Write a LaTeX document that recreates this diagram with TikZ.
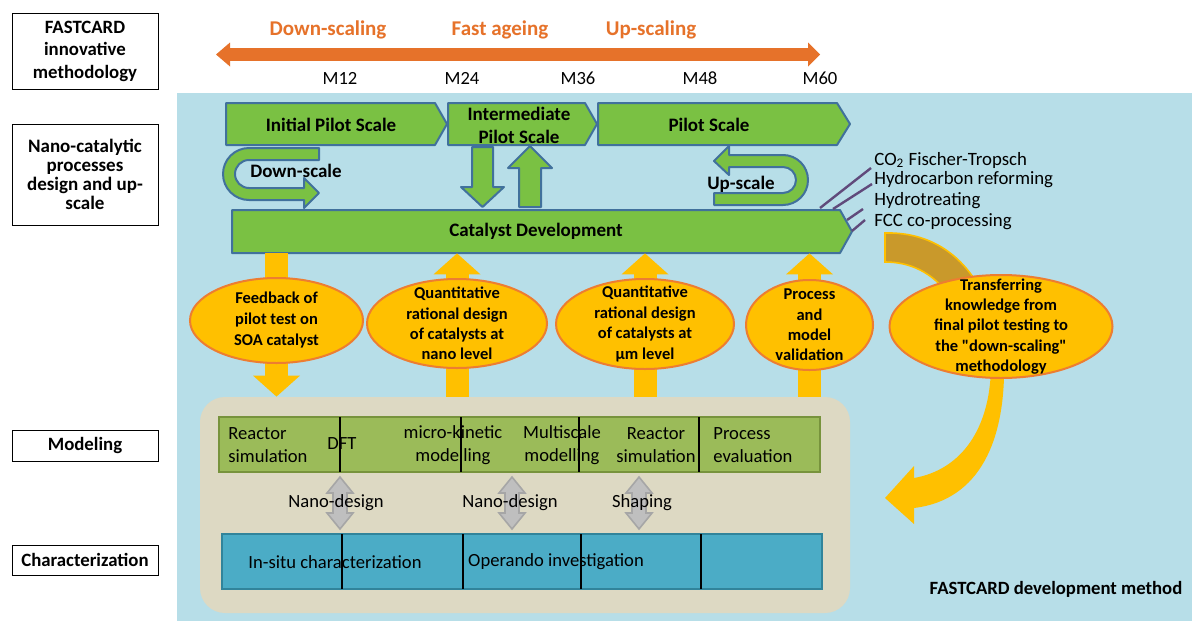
\documentclass[tikz,border=0pt]{standalone}
\usepackage{fontspec}
\setmainfont{Carlito}
\usetikzlibrary{arrows.meta}
\definecolor{skyback}{HTML}{B7DEE8}
\definecolor{leafgreen}{HTML}{7AC143}
\definecolor{edgeblue}{HTML}{41719C}
\definecolor{gold}{HTML}{FFC000}
\definecolor{darkgold}{HTML}{C9992B}
\definecolor{rimorange}{HTML}{ED7D31}
\definecolor{timeorange}{HTML}{E6722A}
\definecolor{sand}{HTML}{DDD9C3}
\definecolor{olive}{HTML}{9BBB59}
\definecolor{oliveedge}{HTML}{77933C}
\definecolor{teal}{HTML}{4BACC6}
\definecolor{tealedge}{HTML}{31849B}
\definecolor{plum}{HTML}{604A7B}

\begin{document}
\begin{tikzpicture}[x=0.5pt, y=-0.5pt,
        lbl/.style={draw=black, line width=0.5pt, fill=white, align=center, inner sep=0pt, minimum width=73pt, font=\bfseries\fontsize{9.4}{11.25}\selectfont},
        pilot/.style={fill=leafgreen, draw=edgeblue, line width=1pt, line join=round},
        pilottext/.style={font=\bfseries\fontsize{9.5}{11.5}\selectfont, align=center, inner sep=0pt},
        orangetext/.style={text=timeorange, font=\bfseries\fontsize{10.5}{12}\selectfont, inner sep=0pt},
        bubble/.style={fill=gold, draw=rimorange, line width=1pt},
        bubbletext/.style={font=\bfseries\fontsize{8.25}{10.2}\selectfont, align=center, inner sep=0pt},
        goldarrow/.style={gold, line width=11.5pt, -{Triangle[length=10.5pt, width=23.5pt, line width=0pt]}},
        twin/.style={fill=gray!50, draw=gray!70, line width=0.8pt},
        plain/.style={font=\fontsize{9.3}{11.5}\selectfont, align=center, inner sep=0pt},
        listtext/.style={anchor=west, inner sep=0pt, font=\fontsize{9.4}{11}\selectfont},
        divider/.style={black, line width=1pt}]

        \useasboundingbox (0,0) rectangle (1192,621);
        \fill[white] (0,0) rectangle (1192,621);
        \fill[skyback] (177,93) rectangle (1192,621);

        \coordinate (past) at (216,54.5);
        \coordinate (future) at (820,54.5);
        \draw[timeorange, line width=6.5pt, {Triangle[length=7pt, width=12pt, line width=0pt]}-{Triangle[length=6pt, width=12pt, line width=0pt]}] (past) -- (future);
        \node[orangetext] (downscaling) at (328,30) {Down-scaling};
        \node[orangetext] (ageing) at (500,30) {Fast ageing};
        \node[orangetext] (upscaling) at (651,30) {Up-scaling};
        \node[plain] (m12) at (340,78) {M12};
        \node[plain] (m24) at (462,78) {M24};
        \node[plain] (m36) at (578,78) {M36};
        \node[plain] (m48) at (700,78) {M48};
        \node[plain] (m60) at (820,78) {M60};

        \node[lbl, minimum height=38pt] (method) at (85,51) {FASTCARD\\innovative\\methodology};
        \node[lbl, minimum height=50.5pt, font=\bfseries\fontsize{9.5}{9.6}\selectfont] (process) at (85,174.5) {Nano-catalytic\\processes\\design and up-\\scale};
        \node[lbl, minimum height=15.5pt] (modeling) at (85,445.5) {Modeling};
        \node[lbl, minimum height=15pt] (charlabel) at (85,560) {Characterization};

        \filldraw[pilot] (226,103) -- (435,103) -- (447,124) -- (435,145) -- (226,145) -- cycle;
        \filldraw[pilot] (448,103) -- (585,103) -- (597,124) -- (585,145) -- (448,145) -- cycle;
        \filldraw[pilot] (598,103) -- (837,103) -- (850,124) -- (837,145) -- (598,145) -- cycle;
        \node[pilottext] (initial) at (331,125) {Initial Pilot Scale};
        \node[pilottext] (intermediate) at (519,125) {Intermediate\\Pilot Scale};
        \node[pilottext] (pilotscale) at (709,125) {Pilot Scale};

        \filldraw[pilot] (319,148) -- (249,148) arc[start angle=90, end angle=270, radius=13pt] -- (304,200) -- (304,208) -- (319,193) -- (304,178) -- (304,188) -- (249,188) arc[start angle=270, end angle=90, radius=7pt] -- (319,160) -- cycle;
        \node[pilottext] (downscale) at (296,171) {Down-scale};
        \filldraw[pilot] (729,155) -- (783,155) arc[start angle=90, end angle=-90, radius=12.5pt] -- (714,205) -- (714,193) -- (783,193) arc[start angle=-90, end angle=90, radius=6.5pt] -- (729,167) -- (729,175) -- (714,161) -- (729,146) -- cycle;
        \node[pilottext] (upscale) at (741,184) {Up-scale};

        \filldraw[pilot] (472,147) -- (493,147) -- (493,187) -- (504,187) -- (482.5,207) -- (461,187) -- (472,187) -- cycle;
        \filldraw[pilot] (519,207) -- (541,207) -- (541,168) -- (552,168) -- (530,146) -- (508,168) -- (519,168) -- cycle;

        \filldraw[pilot] (232,210) -- (840,210) -- (852,231.5) -- (840,253) -- (232,253) -- cycle;
        \node[pilottext, minimum width=304pt, minimum height=21.5pt] (catalyst) at (536,231.5) {Catalyst Development};

        \draw[plum, line width=1.2pt] (820,208) -- (871,168);
        \draw[plum, line width=1.2pt] (833,209) -- (872,184);
        \draw[plum, line width=1.2pt] (847,220) -- (863,209);
        \draw[plum, line width=1.2pt] (852,231) -- (865,220);
        \node[listtext] (fischer) at (874,160) {CO\textsubscript{2} Fischer-Tropsch};
        \node[listtext] (reforming) at (874,180) {Hydrocarbon reforming};
        \node[listtext] (hydro) at (874,201) {Hydrotreating};
        \node[listtext] (fcc) at (874,222) {FCC co-processing};

        \filldraw[fill=darkgold, draw=gold, line width=0.8pt] (885,262) -- (885,233) .. controls (925,232) and (960,250) .. (982,292) -- (950,296) .. controls (932,272) and (910,262) .. (885,262) -- cycle;
        \fill[gold] (914,478) .. controls (960,470) and (992,430) .. (991,360) -- (1004,360) .. controls (1006,440) and (980,500) .. (914,508) -- (914,524) -- (885,498) -- (914,466) -- cycle;

        \node[fill=sand, rounded corners=12.5pt, minimum width=325pt, minimum height=108pt] (lab) at (525,505) {};

        \coordinate (feedbackc) at (276.5,320.5);
        \coordinate (nanoc) at (457,323.5);
        \coordinate (microc) at (645,324);
        \coordinate (validc) at (809.5,325);
        \draw[goldarrow] (feedbackc |- catalyst.south) -- (feedbackc |- lab.north);
        \draw[goldarrow] (nanoc |- lab.north) -- (nanoc |- catalyst.south);
        \draw[goldarrow] (microc |- lab.north) -- (microc |- catalyst.south);
        \draw[goldarrow] (validc |- lab.north) -- (validc |- catalyst.south);

        \filldraw[bubble] (feedbackc) node[bubbletext, font=\bfseries\fontsize{8.25}{10.5}\selectfont] (feedback) {Feedback of\\pilot test on\\SOA catalyst} ellipse [x radius=43.25pt, y radius=21.25pt];
        \filldraw[bubble] (nanoc) node[bubbletext] (nanodesign) {Quantitative\\rational design\\of catalysts at\\nano level} ellipse [x radius=45pt, y radius=22.25pt];
        \filldraw[bubble] (microc) node[bubbletext] (microdesign) {Quantitative\\rational design\\of catalysts at\\µm level} ellipse [x radius=44.5pt, y radius=22.5pt];
        \filldraw[bubble] (validc) node[bubbletext] (validation) {Process\\and\\model\\validation} ellipse [x radius=31.75pt, y radius=22.5pt];
        \filldraw[bubble] (1001,326.5) node[bubbletext] (transfer) {Transferring\\knowledge from\\final pilot testing to\\the \textquotedbl down-scaling\textquotedbl\\methodology} ellipse [x radius=55.75pt, y radius=25.75pt];

        \node[fill=olive, draw=oliveedge, line width=1pt, minimum width=300.5pt, minimum height=27.5pt] (modelbar) at (519.5,444.5) {};
        \draw[divider] (340,417) -- (340,472);
        \draw[divider] (461,417) -- (461,472);
        \draw[divider] (579,417) -- (579,472);
        \draw[divider] (699,417) -- (699,472);
        \node[plain, anchor=west, align=left] (reactor) at (228,445) {Reactor\\simulation};
        \node[plain] (dft) at (342,444) {DFT};
        \node[plain] (kinetic) at (453,445) {micro-kinetic\\modelling};
        \node[plain] (multiscale) at (562,445) {Multiscale\\modelling};
        \node[plain] (reactortwo) at (656,445) {Reactor\\simulation};
        \node[plain, anchor=west, align=left] (evaluation) at (713,445) {Process\\evaluation};

        \node[fill=teal, draw=tealedge, line width=0.6pt, minimum width=300pt, minimum height=27.5pt] (charbar) at (522,561.5) {};
        \draw[divider] (342,534) -- (342,589);
        \draw[divider] (463,534) -- (463,589);
        \draw[divider] (581,534) -- (581,589);
        \draw[divider] (701,534) -- (701,589);
        \node[plain] (insitu) at (335,562) {In-situ characterization};
        \node[plain] (operando) at (556,562) {Operando investigation};

        \foreach \gx in {340,512,639}
            \filldraw[twin] (\gx,477) -- (\gx+13,493) -- (\gx+7,493) -- (\gx+7,513) -- (\gx+13,513) -- (\gx,529) -- (\gx-13,513) -- (\gx-7,513) -- (\gx-7,493) -- (\gx-13,493) -- cycle;
        \node[plain] (nanoone) at (336,503) {Nano-design};
        \node[plain] (nanotwo) at (510,503) {Nano-design};
        \node[plain] (shaping) at (642,503) {Shaping};

        \node[pilottext, font=\bfseries\fontsize{9.35}{11}\selectfont] (fastcard) at (1056,589) {FASTCARD development method};
\end{tikzpicture}
\end{document}
